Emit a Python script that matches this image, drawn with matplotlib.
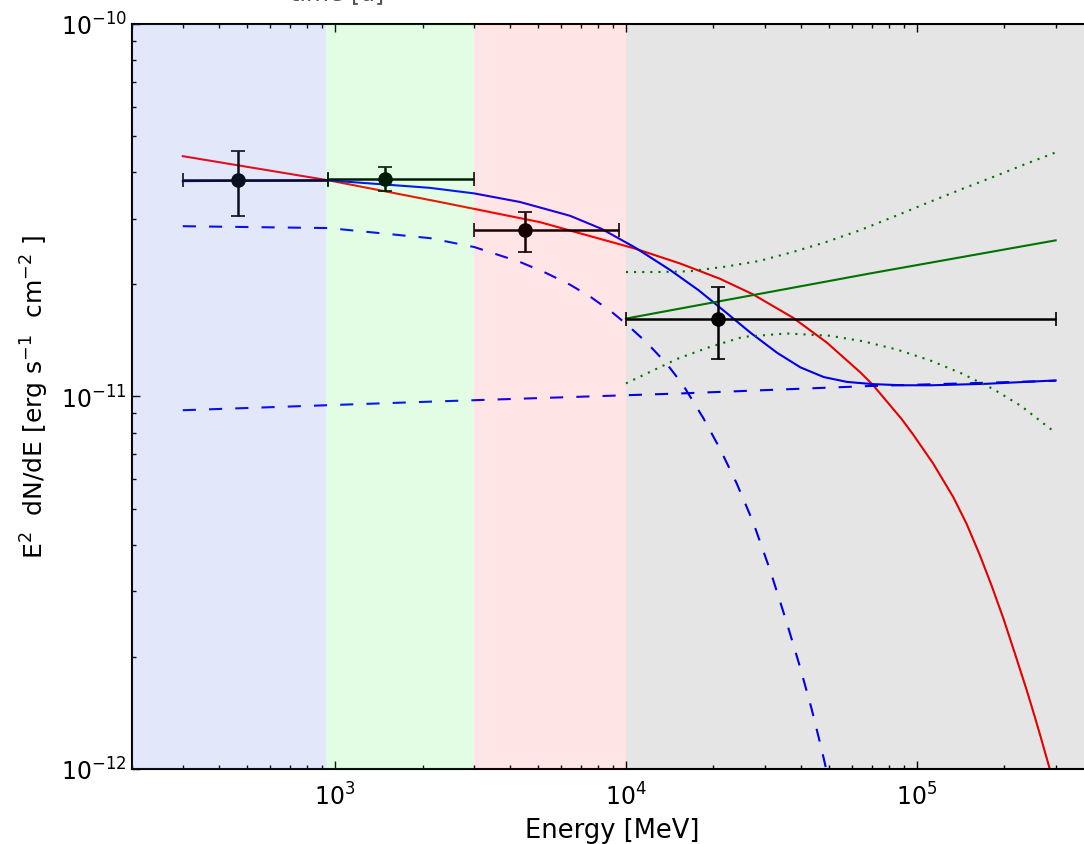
import matplotlib
matplotlib.use('Agg')
import matplotlib.pyplot as plt
import numpy as np

# energy bands [MeV]
band_edges = [200, 935, 3000, 10000, 4e5]
band_colors = ['royalblue', (0.1, 0.95, 0.15), 'red', 'black']
band_alpha = [0.15, 0.12, 0.1, 0.1]

# flux points
pt_E = [466, 1486, 4486, 20700]
pt_Elo = [300, 949, 3000, 10000]
pt_Ehi = [949, 3000, 9487, 300000]
pt_F = [3.80e-11, 3.84e-11, 2.79e-11, 1.615e-11]
pt_Flo = [3.06e-11, 3.56e-11, 2.44e-11, 1.26e-11]
pt_Fhi = [4.55e-11, 4.14e-11, 3.13e-11, 1.97e-11]

red_logE = [2.477, 2.979, 3.361, 3.704, 4.031, 4.186, 4.323, 4.437, 4.575, 4.690,
            4.808, 4.850, 4.947, 4.987, 5.056, 5.125, 5.171, 5.216, 5.257, 5.297,
            5.337, 5.377, 5.400, 5.423, 5.463, 5.477]
red_logF = [-10.355, -10.420, -10.478, -10.532, -10.603, -10.643, -10.684, -10.726,
            -10.789, -10.855, -10.937, -10.970, -11.060, -11.102, -11.180, -11.270,
            -11.342, -11.425, -11.508, -11.595, -11.690, -11.787, -11.846, -11.907,
            -12.017, -12.057]

blue_logE = [2.477, 2.979, 3.326, 3.479, 3.636, 3.808, 3.916, 4.031, 4.151, 4.250,
             4.340, 4.430, 4.520, 4.600, 4.680, 4.760, 4.850, 4.950, 5.050, 5.240,
             5.477]
blue_logF = [-10.422, -10.420, -10.440, -10.455, -10.478, -10.515, -10.550, -10.600,
             -10.660, -10.715, -10.772, -10.830, -10.883, -10.922, -10.948, -10.961,
             -10.967, -10.970, -10.970, -10.966, -10.957]

cut_logE = [2.477, 2.979, 3.326, 3.479, 3.636, 3.724, 3.808, 3.879, 3.951, 4.002,
            4.071, 4.140, 4.197, 4.266, 4.323, 4.380, 4.437, 4.495, 4.552, 4.598,
            4.638, 4.672, 4.700]
cut_logF = [-10.543, -10.548, -10.575, -10.599, -10.639, -10.668, -10.700, -10.733,
            -10.773, -10.806, -10.855, -10.912, -10.970, -11.058, -11.140, -11.232,
            -11.337, -11.465, -11.605, -11.725, -11.838, -11.945, -12.040]

pl_logE = [2.477, 3.326, 4.186, 4.838, 5.477]
pl_logF = [-11.037, -11.014, -10.992, -10.972, -10.958]

# green power law above 10 GeV and its error band
gr_logE = [4.000, 4.838, 5.477]
gr_logF = [-10.791, -10.670, -10.581]
gr_up_logE = [4.000, 4.110, 4.220, 4.347, 4.460, 4.575, 4.690, 4.804, 4.919, 5.050,
              5.159, 5.268, 5.377, 5.477]
gr_up_logF = [-10.666, -10.666, -10.664, -10.651, -10.636, -10.612, -10.585, -10.554,
              -10.518, -10.476, -10.442, -10.409, -10.375, -10.345]
gr_lo_logE = [4.000, 4.180, 4.289, 4.403, 4.552, 4.701, 4.816, 4.931, 5.045, 5.153,
              5.262, 5.359, 5.454, 5.477]
gr_lo_logF = [-10.965, -10.898, -10.867, -10.840, -10.831, -10.837, -10.852, -10.874,
              -10.903, -10.938, -10.980, -11.026, -11.084, -11.097]


def lin(v):
    return 10.0 ** np.array(v)


fig = plt.figure(figsize=(10.84, 8.45), dpi=100)
ax = fig.add_axes([0.1214, 0.0888, 0.886, 0.8817])

lw = 1.5
ax.plot(lin(red_logE), lin(red_logF), color='red', lw=lw)
ax.plot(lin(blue_logE), lin(blue_logF), color='blue', lw=lw)
ax.plot(lin(cut_logE), lin(cut_logF), color='blue', lw=lw, dashes=(6.3, 6.3))
ax.plot(lin(pl_logE), lin(pl_logF), color='blue', lw=lw, dashes=(6.3, 6.3))
ax.plot(lin(gr_logE), lin(gr_logF), color='green', lw=lw)
ax.plot(lin(gr_up_logE), lin(gr_up_logF), color='green', lw=lw, dashes=(1.0, 2.9))
ax.plot(lin(gr_lo_logE), lin(gr_lo_logF), color='green', lw=lw, dashes=(1.0, 2.9))

xerr = [np.array(pt_E) - np.array(pt_Elo), np.array(pt_Ehi) - np.array(pt_E)]
yerr = [np.array(pt_F) - np.array(pt_Flo), np.array(pt_Fhi) - np.array(pt_F)]
ax.errorbar(pt_E, pt_F, xerr=xerr, yerr=yerr, fmt='o', color='black',
            ms=9.5, elinewidth=1.8, capsize=5, capthick=1.2, zorder=5)

# bands sit on top of everything, like in the original
for i in range(len(band_colors)):
    ax.axvspan(band_edges[i], band_edges[i + 1], color=band_colors[i],
               alpha=band_alpha[i], lw=0, zorder=10)

ax.set_xscale('log')
ax.set_yscale('log')
ax.set_xlim(200, 4e5)
ax.set_ylim(1e-12, 1e-10)

for s in ax.spines.values():
    s.set_linewidth(1.5)
ax.tick_params(which='both', direction='in', top=True, right=True, labelsize=17)
ax.tick_params(which='major', length=5.5, width=1)
ax.tick_params(which='minor', length=3, width=1)
ax.tick_params(axis='x', pad=10)

ax.set_xlabel('Energy [MeV]', fontsize=18.5, labelpad=5)
ax.set_ylabel(r'E$^2$  dN/dE [erg s$^{-1}$  cm$^{-2}$ ]', fontsize=18, labelpad=7)

fig.text(337 / 1084, 1.0, 'time [d]', ha='center', va='baseline',
         fontsize=17, color='#555555')

fig.savefig('out.png', dpi=100)
